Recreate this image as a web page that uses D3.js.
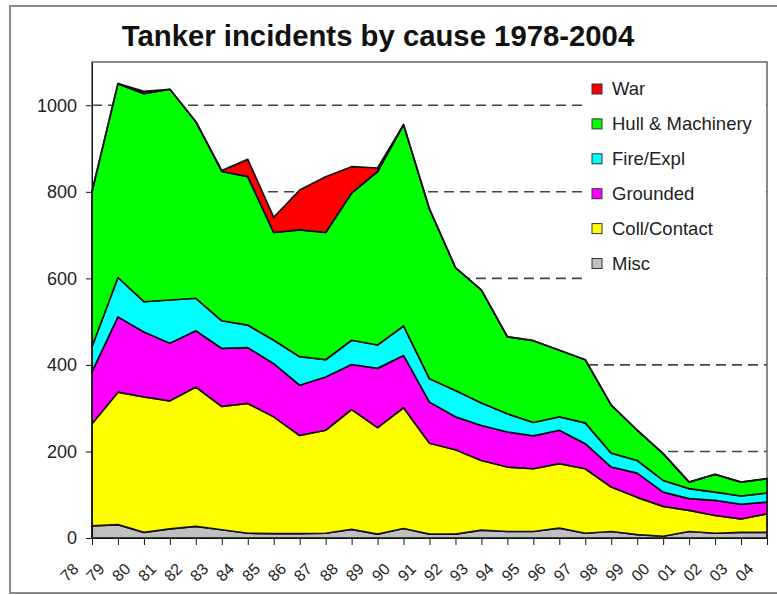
<!DOCTYPE html>
<html><head><meta charset="utf-8">
<script src="https://cdn.jsdelivr.net/npm/d3@7"></script>
<style>body{margin:0;background:#fff}svg{display:block;font-family:Arial,"Liberation Sans",sans-serif}</style>
</head><body><svg id="c" width="777" height="595"></svg>
<script>
const years = ["78","79","80","81","82","83","84","85","86","87","88","89","90","91","92","93","94","95","96","97","98","99","00","01","02","03","04"];
const misc        = [28,31,13,21,27,19,11,10,10,11,20,9,22,9,9,18,15,15,23,11,15,8,4,15,11,13,13];
const collContact = [236,306,313,296,322,285,300,270,227,238,277,246,279,210,195,161,149,145,149,149,103,86,69,49,41,31,43];
const grounded    = [120,174,150,133,130,134,129,123,116,123,104,137,121,95,76,81,81,76,77,58,46,56,33,27,35,34,27];
const fireExpl    = [58,91,70,100,75,64,52,54,66,40,56,54,68,54,61,52,42,31,31,48,32,29,27,23,19,19,21];
const hullMach    = [358,448,481,487,408,345,343,249,293,294,340,401,465,392,284,261,178,189,154,146,111,70,62,15,41,32,33];
const war         = [0,0,5,0,0,2,40,35,92,129,61,8,0,0,0,0,0,0,0,0,0,0,0,0,0,0,0];
const seriesNames = ["Misc","Coll/Contact","Grounded","Fire/Expl","Hull & Machinery","War"];
const seriesColors = ["#C0C0C0","#FFFF00","#FF00FF","#00FFFF","#00FF00","#FF0000"];
const yTicks = [0,200,400,600,800,1000];
const title = "Tanker incidents by cause 1978-2004";

const seriesData = [misc, collContact, grounded, fireExpl, hullMach, war];
const rows = years.map((yr,i)=>{const o={year:yr}; seriesNames.forEach((n,k)=>o[n]=seriesData[k][i]); return o;});

const svg = d3.select("#c");
const L=92, R=767, T=62, B=538;

// outer frame
svg.append("rect").attr("x",10).attr("y",6).attr("width",800).attr("height",587)
  .attr("fill","#fff").attr("stroke","#8a8a8a").attr("stroke-width",2);

svg.append("text").attr("x",378).attr("y",46).attr("text-anchor","middle")
  .attr("font-size",29.3).attr("font-weight","bold").attr("fill","#111").text(title);

const x = d3.scalePoint().domain(years).range([L,R]).padding(0);
const y = d3.scaleLinear().domain([0,1100]).range([B,T]);

// plot area
svg.append("rect").attr("x",L).attr("y",T).attr("width",R-L).attr("height",B-T)
  .attr("fill","#fff").attr("stroke","#666").attr("stroke-width",1.5);

// gridlines
svg.append("g").selectAll("line").data(yTicks.filter(d=>d>0)).join("line")
  .attr("x1",L).attr("x2",R).attr("y1",d=>y(d)).attr("y2",d=>y(d))
  .attr("stroke","#444").attr("stroke-width",1.6).attr("stroke-dasharray","10,6");

// legend background (covers gridlines)
svg.append("rect").attr("x",582).attr("y",70).attr("width",184).attr("height",213).attr("fill","#fff");

const stack = d3.stack().keys(seriesNames);
const layers = stack(rows);
const area = d3.area().x((d,i)=>x(years[i])).y0(d=>y(d[0])).y1(d=>y(d[1]));
svg.append("g").selectAll("path").data(layers).join("path")
  .attr("d",area).attr("fill",(d,i)=>seriesColors[i])
  .attr("stroke","#111").attr("stroke-width",1.7).attr("stroke-linejoin","round");

// legend
const lg = svg.append("g");
const legendOrder = seriesNames.slice().reverse();
legendOrder.forEach((n,i)=>{
  const cy = 89 + i*34.9;
  lg.append("rect").attr("x",592).attr("y",cy-5).attr("width",10).attr("height",10)
    .attr("fill",seriesColors[seriesNames.indexOf(n)]).attr("stroke","#333").attr("stroke-width",1);
  lg.append("text").attr("x",612).attr("y",cy).attr("dy","0.35em").attr("font-size",18.5).attr("fill","#222").text(n);
});

// axes
const ya = svg.append("g").attr("transform",`translate(${L},0)`)
  .call(d3.axisLeft(y).tickValues(yTicks).tickFormat(d3.format("d")).tickSize(6).tickPadding(9).tickSizeOuter(0));
ya.selectAll("text").attr("font-size",18).attr("fill","#222").attr("font-family","Arial, Liberation Sans, sans-serif");
ya.selectAll("line").attr("stroke","#111");
ya.select(".domain").attr("stroke","#111");

const xa = svg.append("g").attr("transform",`translate(0,${B})`)
  .call(d3.axisBottom(x).tickSize(7).tickSizeOuter(0));
xa.select(".domain").attr("stroke","#111");
xa.selectAll("line").attr("stroke","#111");
xa.selectAll("text").attr("font-size",16).attr("fill","#222").attr("font-family","Arial, Liberation Sans, sans-serif")
  .attr("text-anchor","end").attr("dy",null).attr("y",null)
  .attr("transform","translate(-13,32) rotate(-45)");
</script></body></html>
